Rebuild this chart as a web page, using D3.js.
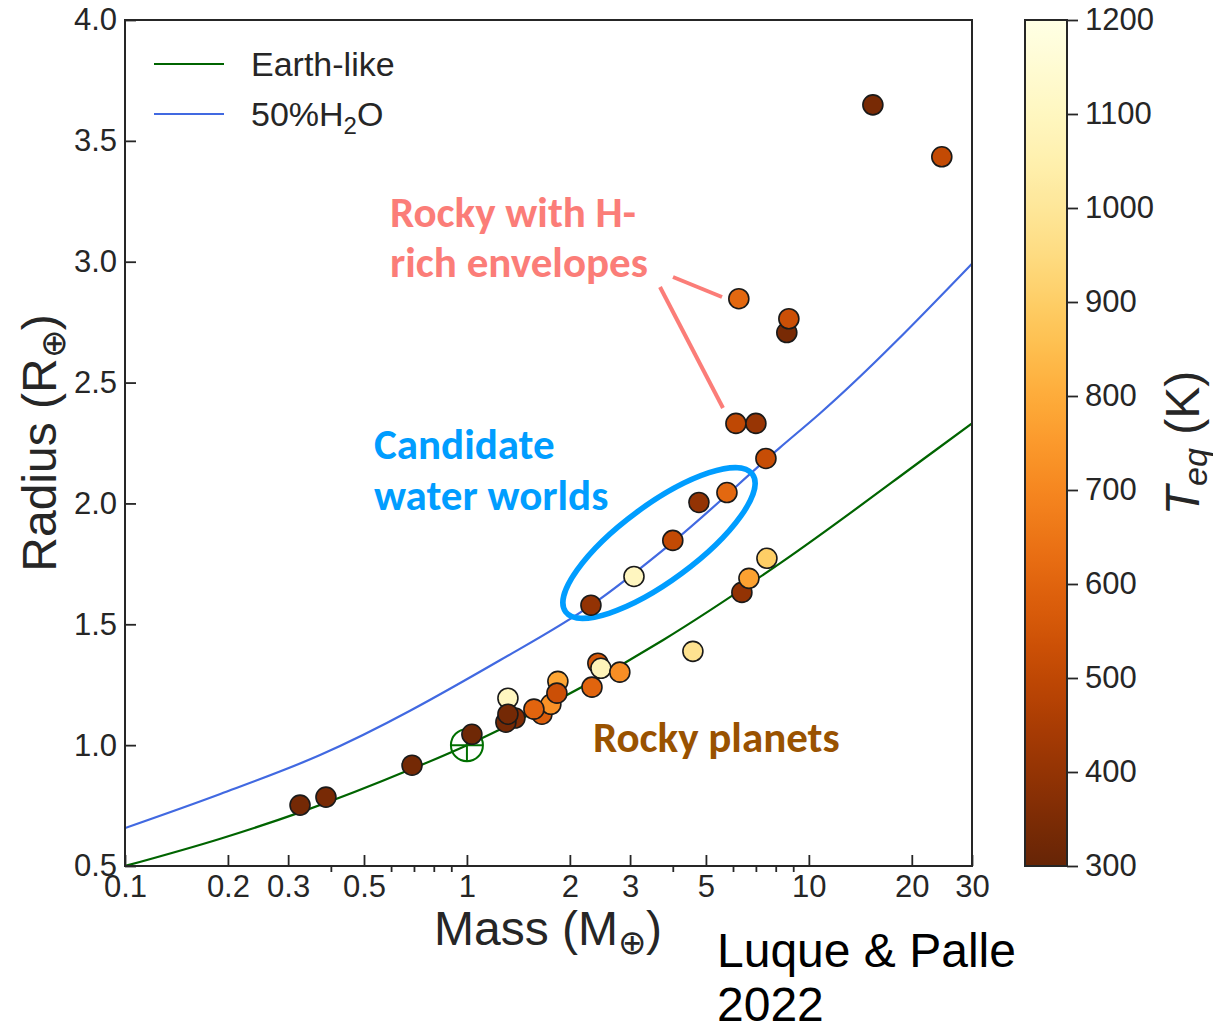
<!DOCTYPE html>
<html>
<head>
<meta charset="utf-8">
<script src="https://cdn.jsdelivr.net/npm/d3@7"></script>
<style>
  body { margin: 0; background: #fff; }
  svg { display: block; }
</style>
</head>
<body>
<script>
// planets: mass (Earth masses), radius (Earth radii), equilibrium temperature (K)
var planetMass   = [0.325, 0.387, 0.691, 1.034, 1.318, 1.382, 1.30, 1.318, 1.657, 1.760, 1.570, 1.845, 1.833,
                    2.321, 2.415, 2.465, 2.80, 4.58, 2.305, 3.08, 4.00, 4.77, 5.76, 7.49, 6.12, 7.00,
                    6.24, 8.62, 8.74, 6.37, 6.68, 7.54, 15.39, 24.48];
var planetRadius = [0.752, 0.785, 0.917, 1.045, 1.194, 1.112, 1.095, 1.128, 1.128, 1.169, 1.149, 1.264, 1.215,
                    1.240, 1.339, 1.318, 1.302, 1.388, 1.579, 1.698, 1.847, 2.004, 2.045, 2.186, 2.331, 2.331,
                    2.847, 2.707, 2.764, 1.632, 1.690, 1.773, 3.649, 3.434];
var planetTeq    = [330, 340, 330, 320, 1100, 360, 330, 330, 580, 730, 600, 780, 530,
                    600, 560, 1080, 720, 980, 400, 1100, 510, 400, 610, 520, 500, 410,
                    610, 340, 530, 400, 770, 900, 340, 510];

// composition curves
var earthMass   = [0.1, 0.19, 0.325, 0.691, 1.0, 1.249, 3.74, 8.23, 23.4, 30];
var earthRadius = [0.5, 0.613, 0.722, 0.902, 1.0, 1.065, 1.434, 1.752, 2.219, 2.331];
var waterMass   = [0.1, 0.19, 0.372, 1.249, 2.31, 4.0, 8.23, 10.77, 30];
var waterRadius = [0.657, 0.798, 0.959, 1.351, 1.579, 1.840, 2.231, 2.372, 2.992];

var xMajorTicks = [0.1, 0.2, 0.3, 0.5, 1, 2, 3, 5, 10, 20, 30];
var xMinorTicks = [0.4, 0.6, 0.7, 0.8, 0.9, 4, 6, 7, 8, 9];
var yTicks = [0.5, 1.0, 1.5, 2.0, 2.5, 3.0, 3.5, 4.0];
var teqTicks = [300, 400, 500, 600, 700, 800, 900, 1000, 1100, 1200];

var width = 1213, height = 1025;
var pLeft = 125, pRight = 972, pTop = 20, pBottom = 866;
var font = "'Liberation Sans', Arial, sans-serif";
var boldFont = "Carlito, Lato, 'Open Sans', sans-serif";
var ink = "#262626";

var svg = d3.select("body").append("svg")
  .attr("width", width).attr("height", height)
  .attr("viewBox", "0,0," + width + "," + height);

var x = d3.scaleLog().domain([0.1, 30]).range([pLeft, pRight]);
var y = d3.scaleLinear().domain([0.5, 4]).range([pBottom, pTop]);
var colour = d3.scaleSequential(function(t){ return d3.interpolateYlOrBr(1 - t); }).domain([300, 1200]);

var defs = svg.append("defs");
defs.append("clipPath").attr("id", "plotclip")
  .append("rect").attr("x", pLeft).attr("y", pTop).attr("width", pRight - pLeft).attr("height", pBottom - pTop);

var plot = svg.append("g").attr("clip-path", "url(#plotclip)");

//CURVES
var line = d3.line().x(function(d){ return x(d[0]); }).y(function(d){ return y(d[1]); }).curve(d3.curveMonotoneX);
plot.append("path").attr("d", line(d3.zip(earthMass, earthRadius)))
  .attr("fill", "none").attr("stroke", "#006400").attr("stroke-width", 2.2);
plot.append("path").attr("d", line(d3.zip(waterMass, waterRadius)))
  .attr("fill", "none").attr("stroke", "royalblue").attr("stroke-width", 2.2);

//EARTH SYMBOL
var ex = x(1), ey = y(1), er = 16;
plot.append("circle").attr("cx", ex).attr("cy", ey).attr("r", er)
  .attr("fill", "none").attr("stroke", "#007000").attr("stroke-width", 2);
plot.append("line").attr("x1", ex - er).attr("x2", ex + er).attr("y1", ey).attr("y2", ey)
  .attr("stroke", "#007000").attr("stroke-width", 2);
plot.append("line").attr("x1", ex).attr("x2", ex).attr("y1", ey - er).attr("y2", ey + er)
  .attr("stroke", "#007000").attr("stroke-width", 2);

//ANNOTATION SHAPES
plot.append("line").attr("x1", 673).attr("y1", 277).attr("x2", 722).attr("y2", 297)
  .attr("stroke", "#fb7d78").attr("stroke-width", 4);
plot.append("line").attr("x1", 660).attr("y1", 287).attr("x2", 723).attr("y2", 408)
  .attr("stroke", "#fb7d78").attr("stroke-width", 4);
plot.append("ellipse").attr("cx", 0).attr("cy", 0).attr("rx", 116).attr("ry", 38)
  .attr("transform", "translate(659,543) rotate(-36.4)")
  .attr("fill", "none").attr("stroke", "#009dff").attr("stroke-width", 5.5);

//POINTS
plot.selectAll("circle.planet").data(d3.range(planetMass.length)).enter().append("circle")
  .attr("class", "planet")
  .attr("cx", function(i){ return x(planetMass[i]); })
  .attr("cy", function(i){ return y(planetRadius[i]); })
  .attr("r", 10)
  .attr("fill", function(i){ return colour(planetTeq[i]); })
  .attr("stroke", "#1a1a1a")
  .attr("stroke-width", 1.6);

//ANNOTATION TEXT
function note(txt, px, py, col){
  svg.append("text").text(txt).attr("x", px).attr("y", py)
    .attr("font-family", boldFont).attr("font-weight", "bold").attr("font-size", 43)
    .attr("fill", col);
}
note("Rocky with H-", 390, 227, "#fb7d78");
note("rich envelopes", 390, 277, "#fb7d78");
note("Candidate", 374, 459, "#009dff");
note("water worlds", 374, 510, "#009dff");
note("Rocky planets", 593, 752, "#995200");

//AXES
svg.append("g").attr("transform", "translate(0," + pBottom + ")")
  .call(d3.axisBottom(x).tickValues(xMajorTicks).tickFormat(d3.format("~g"))
    .tickSizeInner(-11).tickSizeOuter(0).tickPadding(9));
svg.append("g").attr("transform", "translate(0," + pBottom + ")")
  .call(d3.axisBottom(x).tickValues(xMinorTicks).tickFormat("").tickSizeInner(6).tickSizeOuter(0));
svg.append("g").attr("transform", "translate(" + pLeft + ",0)")
  .call(d3.axisLeft(y).tickValues(yTicks).tickFormat(d3.format(".1f"))
    .tickSizeInner(-11).tickSizeOuter(0).tickPadding(8));

svg.selectAll(".domain").remove();
svg.selectAll(".tick line").attr("stroke", ink).attr("stroke-width", 1.8);
svg.selectAll(".tick text").attr("font-family", font).attr("font-size", 31).attr("fill", ink);

svg.append("rect").attr("x", pLeft).attr("y", pTop).attr("width", pRight - pLeft).attr("height", pBottom - pTop)
  .attr("fill", "none").attr("stroke", ink).attr("stroke-width", 2);

//LEGEND
var legend = [{t: "Earth-like", c: "#006400", y: 64}, {t: "50%H", c: "royalblue", y: 114}];
legend.forEach(function(l){
  svg.append("line").attr("x1", 154).attr("x2", 224).attr("y1", l.y).attr("y2", l.y)
    .attr("stroke", l.c).attr("stroke-width", 2.2);
  var t = svg.append("text").attr("x", 251).attr("y", l.y).attr("dy", "0.36em")
    .attr("font-family", font).attr("font-size", 34).attr("fill", ink).text(l.t);
  if(l.t == "50%H"){
    t.append("tspan").text("2").attr("font-size", 24).attr("dy", 8);
    t.append("tspan").text("O").attr("dy", -8);
  }
});

//AXIS LABELS
var xl = svg.append("text").attr("x", 548).attr("y", 945).attr("text-anchor", "middle")
  .attr("font-family", font).attr("font-size", 48).attr("fill", ink).text("Mass (M");
xl.append("tspan").text("⊕").attr("font-size", 34).attr("dy", 9);
xl.append("tspan").text(")").attr("dy", -9);

var yl = svg.append("text").attr("transform", "translate(56,443) rotate(-90)").attr("text-anchor", "middle")
  .attr("font-family", font).attr("font-size", 48).attr("fill", ink).text("Radius (R");
yl.append("tspan").text("⊕").attr("font-size", 34).attr("dy", 9);
yl.append("tspan").text(")").attr("dy", -9);

svg.append("text").attr("x", 717).attr("y", 967).attr("font-family", font).attr("font-size", 48)
  .attr("fill", "#000").text("Luque & Palle");
svg.append("text").attr("x", 717).attr("y", 1021).attr("font-family", font).attr("font-size", 48)
  .attr("fill", "#000").text("2022");

//COLORBAR
var cbx = 1025, cbw = 42;
var grad = defs.append("linearGradient").attr("id", "cbgrad")
  .attr("x1", 0).attr("y1", 1).attr("x2", 0).attr("y2", 0);
d3.range(0, 1.0001, 0.02).forEach(function(t){
  grad.append("stop").attr("offset", t).attr("stop-color", colour(300 + 900 * t));
});
svg.append("rect").attr("x", cbx).attr("y", pTop).attr("width", cbw).attr("height", pBottom - pTop)
  .attr("fill", "url(#cbgrad)").attr("stroke", ink).attr("stroke-width", 2);
var cy = d3.scaleLinear().domain([300, 1200]).range([pBottom, pTop]);
var cbAxis = svg.append("g").attr("transform", "translate(" + (cbx + cbw) + ",0)")
  .call(d3.axisRight(cy).tickValues(teqTicks).tickFormat(d3.format("d"))
    .tickSizeInner(11).tickSizeOuter(0).tickPadding(7));
cbAxis.select(".domain").remove();
cbAxis.selectAll(".tick line").attr("stroke", ink).attr("stroke-width", 1.8);
cbAxis.selectAll(".tick text").attr("font-family", font).attr("font-size", 31).attr("fill", ink);

var cl = svg.append("text").attr("transform", "translate(1199,443) rotate(-90)").attr("text-anchor", "middle")
  .attr("font-family", font).attr("font-size", 48).attr("fill", ink);
cl.append("tspan").text("T").attr("font-style", "italic");
cl.append("tspan").text("eq").attr("font-style", "italic").attr("font-size", 34).attr("dy", 8);
cl.append("tspan").text(" (K)").attr("dy", -8);
</script>
</body>
</html>
